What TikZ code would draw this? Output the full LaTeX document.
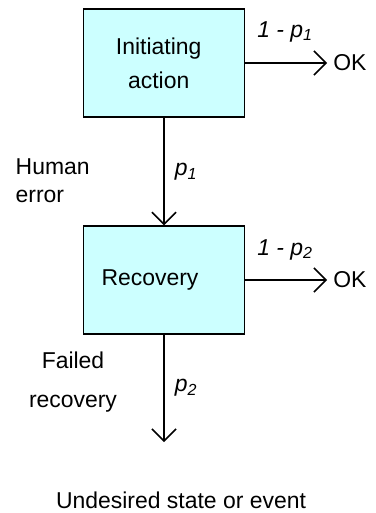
\documentclass[tikz,border=0pt]{standalone}
\usepackage{fontspec}
\setmainfont{Liberation Sans}
\usepackage{tikz}
\usetikzlibrary{arrows.meta}

\definecolor{boxcyan}{RGB}{204,255,255}
\newcommand{\bodysize}{\fontsize{17.2}{20}\selectfont}

\tikzset{
  blockbox/.style={draw, fill=boxcyan, line width=1.1pt, minimum width=120.75pt,
    minimum height=81pt, inner sep=0pt, align=center},
  flow/.style={line width=1.1pt, -{Straight Barb[length=9pt,width=18pt]}},
  prob/.style={font=\bodysize\itshape}
}

\begin{document}
\begin{tikzpicture}[x=0.75pt,y=-0.75pt,every node/.style={font=\bodysize}]
  \useasboundingbox (0,0) rectangle (375,513);

  % boxes
  \node[blockbox, font=\fontsize{17.2}{25.5}\selectfont] (init) at (164,63) {Initiating\kern8pt\\action\kern8pt};
  \node[blockbox] (recov) at (164,280) {Recovery\kern21pt};

  % ends of the arrows
  \node[anchor=west, inner sep=4.5pt] (ok1) at (327,63) {OK};
  \node[anchor=west, inner sep=4.5pt] (ok2) at (327,280) {OK};
  \coordinate (fail) at (164,442); % end of the last arrow

  \draw[flow] (init) -- (ok1);
  \draw[flow] (init) -- (recov);
  \draw[flow] (recov) -- (ok2);
  \draw[flow] (recov) -- (fail);

  % probabilities
  \node[prob] (q1) at (285,32) {1 - p\textsubscript{1}};
  \node[prob] (q2) at (285,250) {1 - p\textsubscript{2}};
  \node[prob] (p1) at (186,172) {p\textsubscript{1}};
  \node[prob] (p2) at (186,388) {p\textsubscript{2}};

  % side texts
  \node[align=left, anchor=west, font=\fontsize{17.2}{21}\selectfont] (human) at (11,181) {Human\\error};
  \node[align=center, font=\fontsize{17.2}{29}\selectfont] (failed) at (73,382) {Failed\\recovery};
  \node (undes) at (181,500) {Undesired state or event};
\end{tikzpicture}
\end{document}
